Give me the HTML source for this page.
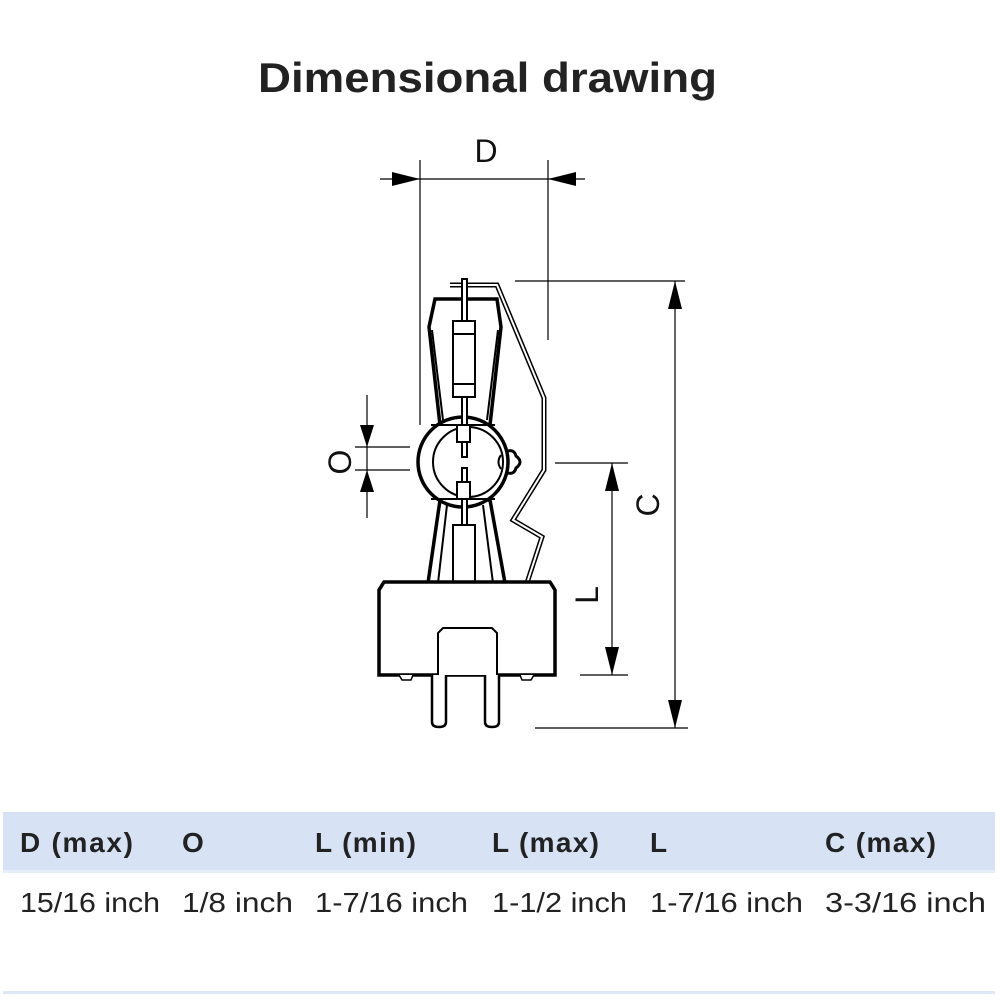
<!DOCTYPE html>
<html><head><meta charset="utf-8"><style>
html,body{margin:0;padding:0;background:#fff;width:1000px;height:1000px;overflow:hidden}
svg{position:absolute;left:0;top:0}
</style></head><body>
<svg width="1000" height="1000" viewBox="0 0 1000 1000" xmlns="http://www.w3.org/2000/svg" font-family="Liberation Sans, sans-serif">
<text x="258" y="92" textLength="459" lengthAdjust="spacingAndGlyphs" font-size="42" font-weight="bold" fill="#222">Dimensional drawing</text>
<g stroke="#000" fill="none" stroke-width="1.2">
<line x1="380" y1="179" x2="585" y2="179"/>
<line x1="420" y1="160" x2="420" y2="425"/>
<line x1="548" y1="160" x2="548" y2="340"/>
<line x1="515" y1="281" x2="685" y2="281"/>
<line x1="675" y1="281" x2="675" y2="728"/>
<line x1="535" y1="728" x2="688" y2="728"/>
<line x1="555" y1="463" x2="628" y2="463"/>
<line x1="612" y1="463" x2="612" y2="675"/>
<line x1="580" y1="675" x2="628" y2="675"/>
<line x1="367" y1="395" x2="367" y2="518"/>
<line x1="355" y1="447" x2="410" y2="447"/>
<line x1="355" y1="470" x2="410" y2="470"/>
</g>
<g fill="#000">
<polygon points="420,179 392,172 392,186"/>
<polygon points="548,179 576,172 576,186"/>
<polygon points="675,281 668,309 682,309"/>
<polygon points="675,728 668,700 682,700"/>
<polygon points="612,463 605,491 619,491"/>
<polygon points="612,675 605,647 619,647"/>
<polygon points="367,447 360,425 374,425"/>
<polygon points="367,470 360,492 374,492"/>
</g>
<text x="486" y="162" text-anchor="middle" font-size="32" fill="#111">D</text>
<text transform="translate(659,505) rotate(-90)" text-anchor="middle" font-size="32" fill="#111">C</text>
<text transform="translate(598,595) rotate(-90)" text-anchor="middle" font-size="32" fill="#111">L</text>
<text transform="translate(351,462) rotate(-90)" text-anchor="middle" font-size="32" fill="#111">O</text>
<defs><clipPath id="gc"><rect x="420" y="425" width="100" height="74"/></clipPath></defs>
<g stroke="#000" fill="#fff" stroke-width="2">
<polyline points="450,285 497,285 544,398 544,470 513,520 542,537 527,583" stroke-width="5" fill="none"/>
<polyline points="450,285 497,285 544,398 544,470 513,520 542,537 527,583" stroke="#fff" stroke-width="2" fill="none"/>
<path d="M435,299 L497,299 L501,327 L490,425 L440,425 L429,327 Z" stroke-width="3.5"/>
<line x1="432" y1="330" x2="443" y2="420"/>
<line x1="498" y1="330" x2="487" y2="420"/>
<path d="M440,500 L490,500 L505,583 L428,583 Z" stroke-width="3.5"/>
<line x1="447" y1="505" x2="438" y2="583"/>
<line x1="483" y1="505" x2="493" y2="583"/>
<rect x="462" y="279" width="5" height="44"/>
<rect x="453" y="321" width="22" height="76"/>
<line x1="453" y1="334" x2="475" y2="334"/>
<line x1="453" y1="384" x2="475" y2="384"/>
<path d="M505,452 Q514,448 516,456 Q524,462 516,468 Q514,476 505,472" stroke-width="3"/>
<circle cx="463" cy="462" r="45" stroke-width="3.5"/>
<circle cx="468" cy="462" r="35" fill="none" clip-path="url(#gc)"/>
<path d="M501,455 Q496,462 501,469" stroke-width="2" fill="#fff"/>
<line x1="431" y1="425" x2="495" y2="425"/>
<line x1="431" y1="499" x2="495" y2="499"/>
<rect x="462" y="397" width="5" height="60"/>
<rect x="457" y="425" width="13" height="17"/>
<rect x="462" y="468" width="5" height="60"/>
<rect x="457" y="482" width="13" height="17"/>
<rect x="453" y="525" width="22" height="58"/>
<path d="M384,582 L550,582 L555,590 L555,675 L379,675 L379,590 Z" stroke-width="3.5"/>
<path d="M438,675 L438,633 L443,628 L492,628 L497,633 L497,675" stroke-width="2"/>
<path d="M432,675 L432,722 Q432,727 439,727 Q446,727 446,722 L446,675" stroke-width="2.5"/>
<path d="M485,675 L485,722 Q485,727 492,727 Q499,727 499,722 L499,675" stroke-width="2.5"/>
<path d="M399,675 L402,680 L411,680 L413,675" stroke-width="1.5"/>
<path d="M520,675 L522,680 L531,680 L534,675" stroke-width="1.5"/>
</g>
<rect x="3" y="812" width="992" height="58" fill="#d7e3f4"/>
<rect x="3" y="870" width="992" height="3" fill="#e6eef9"/>
<rect x="3" y="991" width="992" height="3" fill="#dde8f6"/>
<g font-size="28" font-weight="bold" fill="#222" lengthAdjust="spacingAndGlyphs">
<text x="20" y="852" textLength="113">D (max)</text>
<text x="182" y="852">O</text>
<text x="315" y="852" textLength="101">L (min)</text>
<text x="492" y="852" textLength="107">L (max)</text>
<text x="650" y="852">L</text>
<text x="825" y="852" textLength="111">C (max)</text>
</g>
<g font-size="28" fill="#222">
<text x="20" y="912" textLength="140" lengthAdjust="spacingAndGlyphs">15/16 inch</text>
<text x="182" y="912" textLength="111" lengthAdjust="spacingAndGlyphs">1/8 inch</text>
<text x="315" y="912" textLength="153" lengthAdjust="spacingAndGlyphs">1-7/16 inch</text>
<text x="492" y="912" textLength="135" lengthAdjust="spacingAndGlyphs">1-1/2 inch</text>
<text x="650" y="912" textLength="153" lengthAdjust="spacingAndGlyphs">1-7/16 inch</text>
<text x="825" y="912" textLength="161" lengthAdjust="spacingAndGlyphs">3-3/16 inch</text>
</g>
</svg>
</body></html>
